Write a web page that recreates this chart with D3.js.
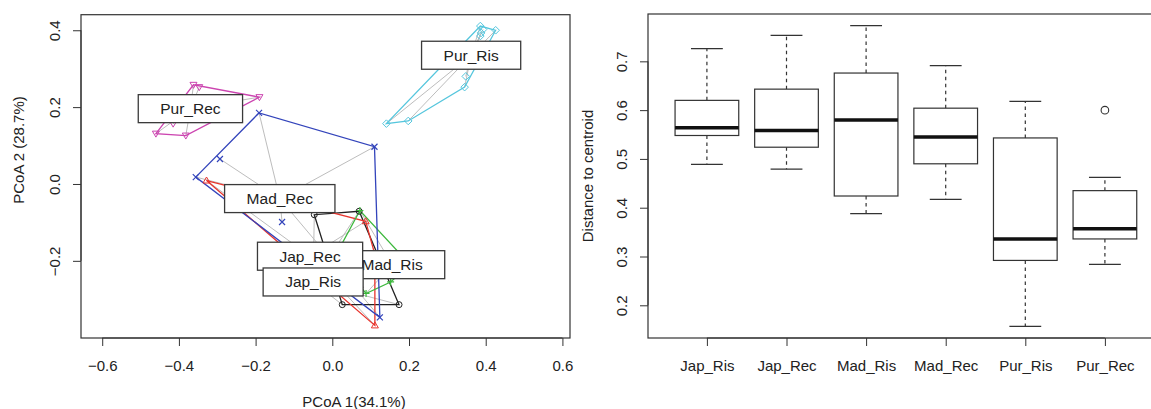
<!DOCTYPE html>
<html>
<head>
<meta charset="utf-8">
<script src="https://cdn.jsdelivr.net/npm/d3@7"></script>
<style>
  body { margin: 0; background: #fff; }
  svg { display: block; }
  text { font-family: "Liberation Sans", Arial, sans-serif; fill: #222; }
</style>
</head>
<body>
<svg id="chart" width="1151" height="409"></svg>
<script>
// --- PCoA (left panel) ---
var groups = ['Jap_Ris', 'Jap_Rec', 'Mad_Ris', 'Mad_Rec', 'Pur_Ris', 'Pur_Rec'];
var groupColors = ['#222222', '#e8352e', '#3cb83c', '#3344bb', '#55c6dd', '#cc44b0'];
var groupShapes = ['circle', 'triangle', 'plus', 'cross', 'diamond', 'triangleDown'];

var japRisPts = [[-0.047, -0.080], [0.070, -0.071], [0.026, -0.314], [0.174, -0.314], [0.051, -0.202], [0.072, -0.269]];
var japRecPts = [[-0.328, 0.009], [0.087, -0.097], [0.111, -0.184], [0.111, -0.368], [-0.110, -0.171], [-0.019, -0.202]];
var madRisPts = [[0.072, -0.069], [0.203, -0.210], [0.152, -0.255], [0.088, -0.285], [0.007, -0.189]];
var madRecPts = [[-0.191, 0.185], [0.110, 0.097], [-0.293, 0.065], [-0.356, 0.018], [-0.131, -0.099], [0.124, -0.347]];
var purRisPts = [[0.386, 0.411], [0.393, 0.402], [0.388, 0.393], [0.386, 0.385], [0.426, 0.400], [0.348, 0.280], [0.345, 0.252], [0.141, 0.157], [0.198, 0.164]];
var purRecPts = [[-0.362, 0.258], [-0.347, 0.252], [-0.190, 0.226], [-0.460, 0.131], [-0.382, 0.126], [-0.415, 0.157]];
var groupPoints = [japRisPts, japRecPts, madRisPts, madRecPts, purRisPts, purRecPts];

var centroids = [[-0.050, -0.255], [-0.058, -0.188], [0.156, -0.210], [-0.137, -0.038], [0.362, 0.335], [-0.370, 0.196]];
// label stacking order (last drawn on top)
var labelOrder = ['Mad_Ris', 'Mad_Rec', 'Jap_Rec', 'Jap_Ris', 'Pur_Ris', 'Pur_Rec'];

var pcoaXTicks = [-0.6, -0.4, -0.2, 0.0, 0.2, 0.4, 0.6];
var pcoaYTicks = [-0.2, 0.0, 0.2, 0.4];

// --- boxplot (right panel) ---
var boxCats = ['Jap_Ris', 'Jap_Rec', 'Mad_Ris', 'Mad_Rec', 'Pur_Ris', 'Pur_Rec'];
var whiskLow = [0.489, 0.479, 0.388, 0.417, 0.157, 0.284];
var q1 = [0.548, 0.524, 0.424, 0.490, 0.292, 0.336];
var medians = [0.564, 0.558, 0.580, 0.545, 0.336, 0.357];
var q3 = [0.620, 0.643, 0.676, 0.604, 0.543, 0.435];
var whiskHigh = [0.726, 0.753, 0.773, 0.691, 0.618, 0.462];
var outliers = [[], [], [], [], [], [0.600]];
var boxYTicks = [0.2, 0.3, 0.4, 0.5, 0.6, 0.7];

var svg = d3.select('#chart');
var axisCol = '#333';
var font = '"Liberation Sans", Arial, sans-serif';

function fmt(d) { return d3.format('.1f')(d).replace('-', '\u2212'); }

// ================= LEFT PANEL =================
var xL = d3.scaleLinear().domain([-0.6553, 0.6198]).range([81, 570]);
var yL = d3.scaleLinear().domain([-0.4008, 0.4405]).range([338, 14.7]);
var left = svg.append('g');

left.append('rect')
  .attr('x', xL.range()[0]).attr('y', yL.range()[1])
  .attr('width', xL.range()[1] - xL.range()[0])
  .attr('height', yL.range()[0] - yL.range()[1])
  .attr('fill', 'none').attr('stroke', axisCol).attr('stroke-width', 1.2);

var xAxisL = left.append('g').attr('transform', 'translate(0,338)')
  .call(d3.axisBottom(xL).tickValues(pcoaXTicks).tickSize(8).tickFormat(fmt));
xAxisL.select('.domain').attr('d', 'M' + xL(-0.6) + ',0H' + xL(0.6)).attr('stroke', axisCol);
xAxisL.selectAll('.tick line').attr('stroke', axisCol);
xAxisL.selectAll('.tick text').attr('y', 33).attr('dy', 0).style('font-size', '15px')
  .style('font-family', font).attr('fill', '#222');

var yAxisL = left.append('g').attr('transform', 'translate(81,0)')
  .call(d3.axisLeft(yL).tickValues(pcoaYTicks).tickSize(8).tickFormat(fmt));
yAxisL.select('.domain').attr('d', 'M0,' + yL(-0.2) + 'V' + yL(0.4)).attr('stroke', axisCol);
yAxisL.selectAll('.tick line').attr('stroke', axisCol);
yAxisL.selectAll('.tick text')
  .attr('x', 0).attr('dy', 0).attr('text-anchor', 'middle')
  .attr('transform', 'translate(-21,0) rotate(-90)')
  .style('font-size', '15px').style('font-family', font).attr('fill', '#222');

left.append('text').attr('x', 354).attr('y', 407).attr('text-anchor', 'middle')
  .style('font-size', '15px').text('PCoA 1(34.1%)');
left.append('text').attr('transform', 'translate(24,150) rotate(-90)').attr('text-anchor', 'middle')
  .style('font-size', '15px').text('PCoA 2 (28.7%)');

var plot = left.append('g');

// spider segments
groups.forEach(function (g, i) {
  var c = centroids[i];
  plot.selectAll(null).data(groupPoints[i]).enter().append('line')
    .attr('x1', xL(c[0])).attr('y1', yL(c[1]))
    .attr('x2', function (d) { return xL(d[0]); })
    .attr('y2', function (d) { return yL(d[1]); })
    .attr('stroke', '#bdbdbd').attr('stroke-width', 1);
});

// hulls
groups.forEach(function (g, i) {
  var px = groupPoints[i].map(function (d) { return [xL(d[0]), yL(d[1])]; });
  var hull = d3.polygonHull(px);
  plot.append('path')
    .attr('d', 'M' + hull.join('L') + 'Z')
    .attr('fill', 'none').attr('stroke', groupColors[i]).attr('stroke-width', 1.3);
});

function marker(sel, shape, col) {
  var s = 3;
  if (shape === 'circle') {
    sel.append('circle').attr('r', s).attr('fill', 'none').attr('stroke', col).attr('stroke-width', 1);
  } else if (shape === 'triangle') {
    sel.append('path').attr('d', 'M0,' + (-s - 0.5) + 'L' + (s + 0.5) + ',' + (s - 0.5) + 'L' + (-s - 0.5) + ',' + (s - 0.5) + 'Z')
      .attr('fill', 'none').attr('stroke', col).attr('stroke-width', 1);
  } else if (shape === 'triangleDown') {
    sel.append('path').attr('d', 'M0,' + (s + 0.5) + 'L' + (s + 0.5) + ',' + (-s + 0.5) + 'L' + (-s - 0.5) + ',' + (-s + 0.5) + 'Z')
      .attr('fill', 'none').attr('stroke', col).attr('stroke-width', 1);
  } else if (shape === 'plus') {
    sel.append('path').attr('d', 'M' + (-s - 0.5) + ',0H' + (s + 0.5) + 'M0,' + (-s - 0.5) + 'V' + (s + 0.5))
      .attr('stroke', col).attr('stroke-width', 1.2);
  } else if (shape === 'cross') {
    sel.append('path').attr('d', 'M' + (-s) + ',' + (-s) + 'L' + s + ',' + s + 'M' + (-s) + ',' + s + 'L' + s + ',' + (-s))
      .attr('stroke', col).attr('stroke-width', 1.2);
  } else if (shape === 'diamond') {
    sel.append('path').attr('d', 'M0,' + (-s - 0.8) + 'L' + (s + 0.8) + ',0L0,' + (s + 0.8) + 'L' + (-s - 0.8) + ',0Z')
      .attr('fill', 'none').attr('stroke', col).attr('stroke-width', 1);
  }
}

groups.forEach(function (g, i) {
  plot.selectAll(null).data(groupPoints[i]).enter().append('g')
    .attr('transform', function (d) { return 'translate(' + xL(d[0]) + ',' + yL(d[1]) + ')'; })
    .each(function () { marker(d3.select(this), groupShapes[i], groupColors[i]); });
});

// centroid labels
labelOrder.forEach(function (name) {
  var i = groups.indexOf(name);
  var c = centroids[i];
  var cx = xL(c[0]), cy = yL(c[1]);
  var lg = plot.append('g');
  var r = lg.append('rect');
  var t = lg.append('text').attr('x', cx).attr('y', cy + 5.5).attr('text-anchor', 'middle')
    .style('font-size', '15.5px').text(name);
  var w = t.node().getComputedTextLength() + 44;
  r.attr('x', cx - w / 2).attr('y', cy - 14).attr('width', w).attr('height', 28)
    .attr('fill', '#fff').attr('stroke', '#3a3a3a').attr('stroke-width', 1.3);
});

// ================= RIGHT PANEL =================
var xR = d3.scaleLinear().domain([0.26, 6.74]).range([648, 648 + 6.48 * 79.6]);
var yR = d3.scaleLinear().domain([0.133, 0.797]).range([338, 14]);
var right = svg.append('g');

right.append('rect')
  .attr('x', xR.range()[0]).attr('y', yR.range()[1])
  .attr('width', xR.range()[1] - xR.range()[0])
  .attr('height', yR.range()[0] - yR.range()[1])
  .attr('fill', 'none').attr('stroke', axisCol).attr('stroke-width', 1.2);

var catIdx = boxCats.map(function (d, i) { return i + 1; });
var xAxisR = right.append('g').attr('transform', 'translate(0,338)')
  .call(d3.axisBottom(xR).tickValues(catIdx).tickSize(8).tickFormat(function (d) { return boxCats[d - 1]; }));
xAxisR.select('.domain').attr('d', 'M' + xR(1) + ',0H' + xR(6)).attr('stroke', axisCol);
xAxisR.selectAll('.tick line').attr('stroke', axisCol);
xAxisR.selectAll('.tick text').attr('y', 33).attr('dy', 0).style('font-size', '15px')
  .style('font-family', font).attr('fill', '#222');

var yAxisR = right.append('g').attr('transform', 'translate(' + xR.range()[0] + ',0)')
  .call(d3.axisLeft(yR).tickValues(boxYTicks).tickSize(8).tickFormat(d3.format('.1f')));
yAxisR.select('.domain').attr('d', 'M0,' + yR(0.2) + 'V' + yR(0.7)).attr('stroke', axisCol);
yAxisR.selectAll('.tick line').attr('stroke', axisCol);
yAxisR.selectAll('.tick text')
  .attr('x', 0).attr('dy', 0).attr('text-anchor', 'middle')
  .attr('transform', 'translate(-21,0) rotate(-90)')
  .style('font-size', '15px').style('font-family', font).attr('fill', '#222');

right.append('text').attr('transform', 'translate(593,176) rotate(-90)').attr('text-anchor', 'middle')
  .style('font-size', '15px').text('Distance to centroid');

var halfBox = xR(1.4) - xR(1), halfStaple = xR(1.2) - xR(1);
boxCats.forEach(function (c, i) {
  var cx = xR(i + 1);
  var b = right.append('g');
  // whiskers
  b.append('line').attr('x1', cx).attr('x2', cx).attr('y1', yR(q3[i])).attr('y2', yR(whiskHigh[i]))
    .attr('stroke', axisCol).attr('stroke-width', 1.2).attr('stroke-dasharray', '3.5,3.5');
  b.append('line').attr('x1', cx).attr('x2', cx).attr('y1', yR(q1[i])).attr('y2', yR(whiskLow[i]))
    .attr('stroke', axisCol).attr('stroke-width', 1.2).attr('stroke-dasharray', '3.5,3.5');
  [whiskHigh[i], whiskLow[i]].forEach(function (v) {
    b.append('line').attr('x1', cx - halfStaple).attr('x2', cx + halfStaple).attr('y1', yR(v)).attr('y2', yR(v))
      .attr('stroke', axisCol).attr('stroke-width', 1.2);
  });
  b.append('rect').attr('x', cx - halfBox).attr('y', yR(q3[i]))
    .attr('width', 2 * halfBox).attr('height', yR(q1[i]) - yR(q3[i]))
    .attr('fill', '#fff').attr('stroke', axisCol).attr('stroke-width', 1.2);
  b.append('line').attr('x1', cx - halfBox).attr('x2', cx + halfBox).attr('y1', yR(medians[i])).attr('y2', yR(medians[i]))
    .attr('stroke', '#111').attr('stroke-width', 3.5);
  outliers[i].forEach(function (v) {
    b.append('circle').attr('cx', cx).attr('cy', yR(v)).attr('r', 3.8)
      .attr('fill', 'none').attr('stroke', axisCol).attr('stroke-width', 1.1);
  });
});
</script>
</body>
</html>
